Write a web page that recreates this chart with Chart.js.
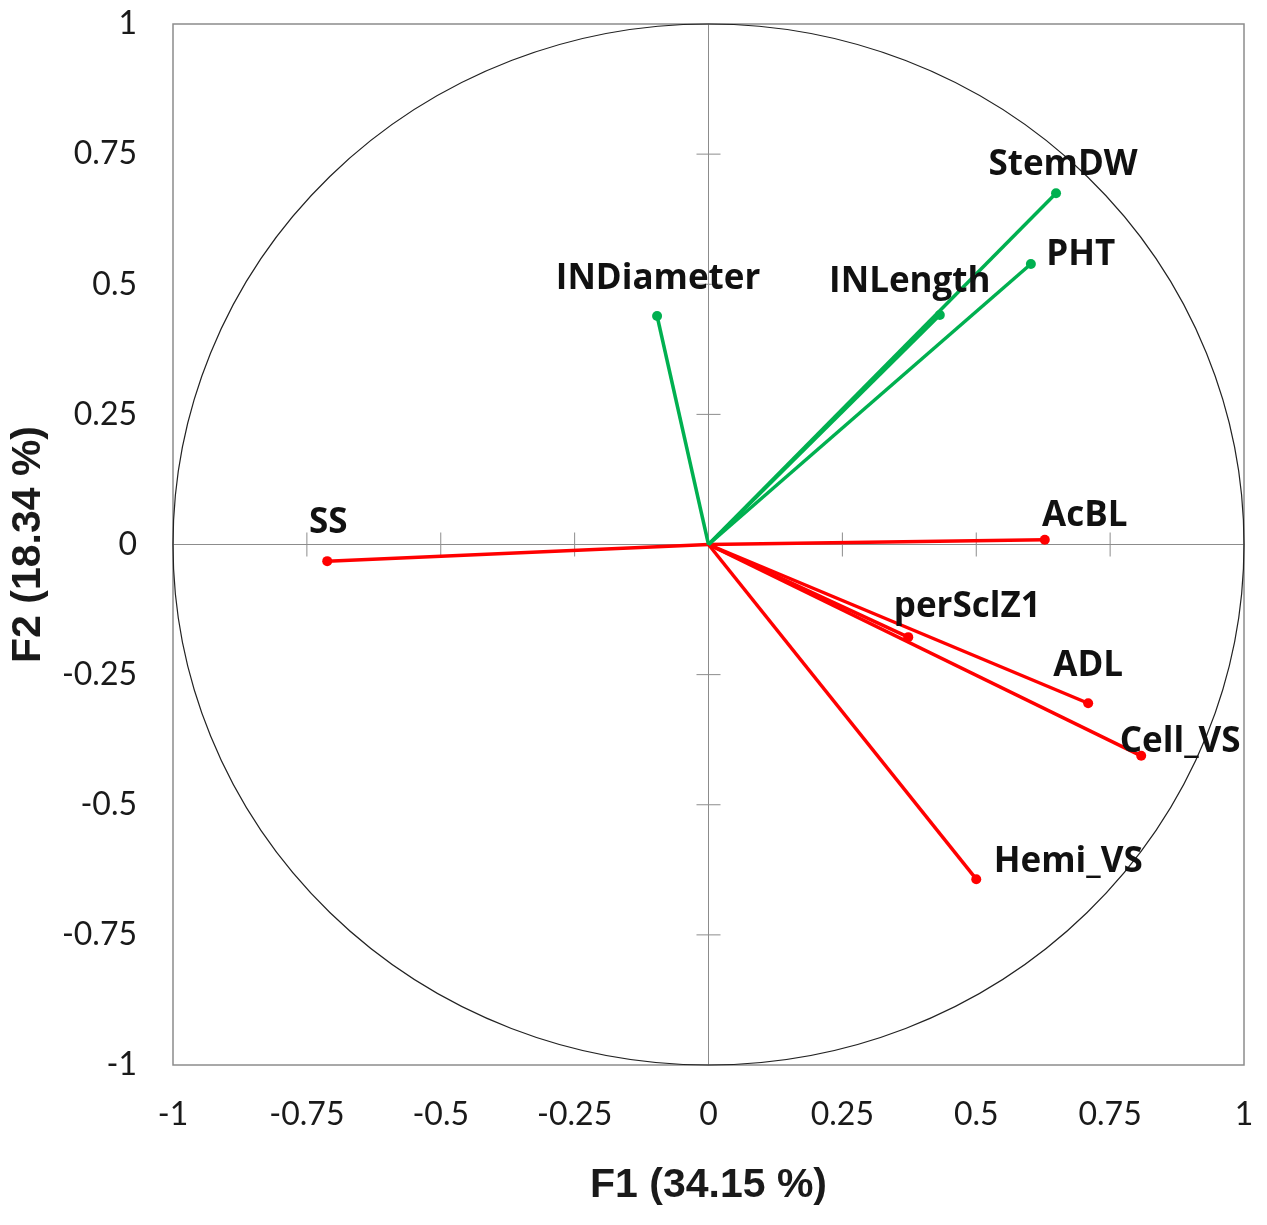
<!DOCTYPE html>
<html>
<head>
<meta charset="utf-8">
<script src="https://cdn.jsdelivr.net/npm/chart.js@4"></script>
<style>
  html, body { margin: 0; padding: 0; background: #fff; overflow: hidden; }
  canvas { display: block; }
</style>
</head>
<body>
<canvas id="pcaChart" width="1267" height="1225" style="width:1267px;height:1225px"></canvas>
<script>
const variables = ["StemDW", "PHT", "INLength", "INDiameter", "AcBL", "SS", "perSclZ1", "ADL", "Cell_VS", "Hemi_VS"];
const f1Values  = [0.649, 0.602, 0.432, -0.096, 0.628, -0.712, 0.373, 0.709, 0.808, 0.500];
const f2Values  = [0.675, 0.539, 0.441, 0.439, 0.009, -0.032, -0.178, -0.305, -0.406, -0.643];
const groups    = ["agro", "agro", "agro", "agro", "wall", "wall", "wall", "wall", "wall", "wall"];
const axisTicks = [-1, -0.75, -0.5, -0.25, 0, 0.25, 0.5, 0.75, 1];
const xTitle = "F1 (34.15 %)";
const yTitle = "F2 (18.34 %)";

const groupColors = { agro: "#00b050", wall: "#ff0000" };

// label placement relative to the arrow tip, in pixels (centre x, baseline y)
const labelOffsets = {
  StemDW: [7, -18], PHT: [50, 1], INLength: [-30, -23], INDiameter: [1, -27],
  AcBL: [40, -14], SS: [1, -28], perSclZ1: [59, -20], ADL: [0, -27],
  "Cell_VS": [39, -4], "Hemi_VS": [92, -7]
};

const datasets = variables.map((name, i) => ({
  label: name,
  data: [{ x: 0, y: 0 }, { x: f1Values[i], y: f2Values[i] }],
  showLine: true,
  borderColor: groupColors[groups[i]],
  backgroundColor: groupColors[groups[i]],
  borderWidth: 3.5,
  pointRadius: [0, 5],
  pointHoverRadius: [0, 5],
  pointBorderWidth: 0
}));

// frame, centre axes with tick marks and the unit circle
const circlePlugin = {
  id: "circlePlugin",
  beforeDatasetsDraw(chart) {
    const { ctx, chartArea: a, scales: { x, y } } = chart;
    const cx = x.getPixelForValue(0), cy = y.getPixelForValue(0);
    ctx.save();
    ctx.strokeStyle = "#8c8c8c";
    ctx.lineWidth = 1.5;
    ctx.strokeRect(a.left, a.top, a.right - a.left, a.bottom - a.top);

    ctx.lineWidth = 1;
    ctx.beginPath();
    ctx.moveTo(a.left, cy); ctx.lineTo(a.right, cy);
    ctx.moveTo(cx, a.top); ctx.lineTo(cx, a.bottom);
    axisTicks.forEach(v => {
      if (v === 0 || Math.abs(v) === 1) return;
      const px = x.getPixelForValue(v), py = y.getPixelForValue(v);
      ctx.moveTo(px, cy - 12); ctx.lineTo(px, cy + 12);
      ctx.moveTo(cx - 12, py); ctx.lineTo(cx + 12, py);
    });
    ctx.stroke();

    ctx.strokeStyle = "#222";
    ctx.lineWidth = 1.2;
    ctx.beginPath();
    ctx.ellipse(cx, cy, x.getPixelForValue(1) - cx, cy - y.getPixelForValue(1), 0, 0, Math.PI * 2);
    ctx.stroke();
    ctx.restore();
  },
  afterDatasetsDraw(chart) {
    const { ctx, scales: { x, y } } = chart;
    ctx.save();
    ctx.font = "bold 35px 'Open Sans'";
    ctx.fillStyle = "#111";
    ctx.textAlign = "center";
    ctx.textBaseline = "alphabetic";
    variables.forEach((name, i) => {
      const off = labelOffsets[name] || [0, -20];
      ctx.fillText(name, x.getPixelForValue(f1Values[i]) + off[0], y.getPixelForValue(f2Values[i]) + off[1]);
    });
    ctx.restore();
  }
};

const tickFont = { family: "Lato", size: 32 };
const titleFont = { family: "'Liberation Sans', Arial, sans-serif", size: 41, weight: "bold" };

new Chart(document.getElementById("pcaChart"), {
  type: "scatter",
  data: { datasets },
  options: {
    responsive: false,
    animation: false,
    devicePixelRatio: 1,
    layout: { padding: { top: 24, right: 23, left: 0, bottom: 0 } },
    plugins: { legend: { display: false }, tooltip: { enabled: false } },
    scales: {
      x: {
        min: -1, max: 1,
        // invisible tick marks give the gap between frame and labels
        grid: { display: false, drawTicks: true, tickLength: 30 },
        border: { display: false },
        afterBuildTicks: s => { s.ticks = axisTicks.map(v => ({ value: v })); },
        afterFit: s => { s.height = 160; },
        ticks: { font: tickFont, color: "#1a1a1a", padding: 0, maxRotation: 0, autoSkip: false, callback: v => String(v) },
        title: { display: true, text: xTitle, font: titleFont, color: "#1a1a1a", padding: { top: 0, bottom: 15 } }
      },
      y: {
        min: -1, max: 1,
        grid: { display: false, drawTicks: true, tickLength: 36 },
        border: { display: false },
        afterBuildTicks: s => { s.ticks = axisTicks.map(v => ({ value: v })); },
        afterFit: s => { s.width = 173; },
        ticks: { font: tickFont, color: "#1a1a1a", padding: 0, autoSkip: false, callback: v => String(v) },
        title: { display: true, text: yTitle, font: titleFont, color: "#1a1a1a", padding: { top: 4, bottom: 0 } }
      }
    }
  },
  plugins: [circlePlugin]
});
</script>
</body>
</html>
